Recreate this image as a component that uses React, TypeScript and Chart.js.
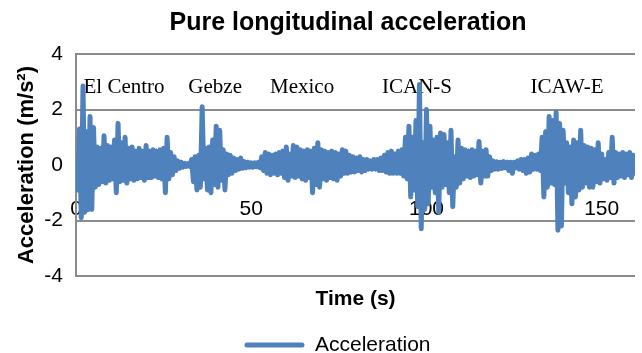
import React, { useEffect, useRef } from "react";
import { Chart, registerables } from "chart.js";

Chart.register(...registerables);

// ---- data ----
const SAMPLE_STEP = 0.5; // seconds between samples
const SERIES_NAME = "Acceleration";

// five concatenated records, 32 s each, values in m/s^2
const elCentro = [
  0.3, -0.9, 1.3, -1.9, 2.85, -1.7, 1.2, -1.6, 1.75, -1.6,
  1.35, -0.8, 0.65, -0.7, 0.6, -0.6, 1.05, -0.65, 0.7, -0.55,
  0.65, -0.5, 0.9, -1.0, 1.5, -0.6, 0.8, -0.55, 1.0, -0.65,
  0.6, -0.5, 0.65, -0.55, 0.5, -0.5, 0.6, -0.45, 0.5, -0.55,
  0.7, -0.45, 0.5, -0.45, 0.55, -0.4, 0.5, -0.45, 0.55, -0.5,
  0.6, -1.0, 1.0, -0.5, 0.45, -0.35, 0.3, -0.2, 0.15, -0.12,
  0.1, -0.08, 0.06, -0.05,
];
const gebze = [
  0.05, -0.05, 0.2, -0.6, 0.3, -0.9, 0.35, -0.8, 2.1, -0.5,
  0.6, -0.9, 0.65, -1.0, 0.9, -0.7, 1.4, -0.8, 1.25, -0.55,
  0.55, -0.9, 0.4, -0.35, 0.35, -0.3, 0.25, -0.2, 0.2, -0.15,
  0.25, -0.12, 0.12, -0.1, 0.1, -0.08, 0.08, -0.08, 0.08, -0.06,
  0.1, -0.1, 0.3, -0.2, 0.45, -0.3, 0.4, -0.35, 0.35, -0.3,
  0.4, -0.35, 0.45, -0.3, 0.5, -0.45, 0.65, -0.55, 0.4, -0.4,
  0.7, -0.45, 0.65, -0.4,
];
const mexico = [
  0.55, -0.5, 0.5, -0.55, 0.55, -0.45, 0.5, -1.0, 0.6, -0.7,
  0.8, -0.8, 0.55, -0.5, 0.5, -0.55, 0.45, -0.45, 0.5, -0.5,
  0.45, -0.55, 0.4, -0.4, 0.55, -0.3, 0.5, -0.3, 0.35, -0.25,
  0.3, -0.25, 0.25, -0.2, 0.3, -0.25, 0.2, -0.2, 0.2, -0.15,
  0.15, -0.15, 0.2, -0.15, 0.2, -0.2, 0.25, -0.2, 0.35, -0.25,
  0.45, -0.3, 0.5, -0.3, 0.4, -0.3, 0.5, -0.3, 0.55, -0.4,
  1.0, -0.5, 1.4, -1.15,
];
const icanS = [
  1.0, -0.9, 1.6, -1.5, 2.9, -2.3, 0.8, -1.6, 2.0, -1.4,
  1.4, -0.8, 0.9, -1.0, 1.0, -1.7, 1.15, -0.8, 1.1, -0.7,
  0.8, -1.0, 1.25, -1.5, 0.3, -0.8, 0.9, -0.65, 0.6, -0.5,
  0.55, -0.4, 0.5, -0.45, 0.55, -0.4, 0.5, -0.35, 0.85, -0.65,
  0.5, -0.4, 0.55, -0.4, 0.3, -0.2, 0.15, -0.15, 0.12, -0.15,
  0.1, -0.12, 0.12, -0.1, 0.1, -0.2, 0.1, -0.3, 0.1, -0.1,
  0.15, -0.15, 0.2, -0.2,
];
const icawE = [
  0.2, -0.3, 0.25, -0.25, 0.4, -0.15, 0.35, -0.15, 0.4, -0.2,
  1.0, -1.15, 1.2, -0.8, 1.75, -0.65, 1.6, -0.7, 1.9, -2.35,
  1.5, -2.2, 1.25, -0.65, 0.8, -1.0, 0.65, -1.4, 0.9, -1.15,
  0.8, -0.9, 1.25, -0.8, 0.7, -0.65, 0.65, -0.8, 0.6, -0.8,
  0.55, -0.6, 0.8, -0.65, 0.4, -0.5, 0.2, -0.55, 0.45, -0.45,
  1.0, -0.65, 0.45, -0.45, 0.4, -0.4, 0.45, -0.45, 0.4, -0.35,
  0.45, -0.45, 0.35, -0.3,
];

const recordNames = ["El Centro", "Gebze", "Mexico", "ICAN-S", "ICAW-E"];
const recordLabelTimes = [13.7, 39.7, 64.5, 97.3, 140.1];
const RECORD_LABEL_LEVEL = 2.81;

const xTickValues = [0, 50, 100, 150];
const X_MAX = 159.5;
const Y_MIN = -4;
const Y_MAX = 4;
const Y_STEP = 2;

// ---- styling ----
const BLUE = "#4f81bd";
const GRID = "#8c8c8c";
const SANS = '"Liberation Sans", Arial, Helvetica, sans-serif';
const SERIF = '"Liberation Serif", "Times New Roman", serif';
const TITLE_CENTER_X = 348;
const LEGEND_CENTER_X = 337.5;
const LEGEND_CENTER_Y = 345;
const LEGEND_FONT = 21;
const LEGEND_PAD = 10;

const recordLabelsPlugin = {
  id: "recordLabels",
  beforeDatasetsDraw(chart: any) {
    const { ctx, scales } = chart;
    ctx.save();
    ctx.font = `21px ${SERIF}`;
    ctx.fillStyle = "#000";
    ctx.textAlign = "center";
    ctx.textBaseline = "middle";
    recordNames.forEach((name, i) => {
      ctx.fillText(
        name,
        scales.x.getPixelForValue(recordLabelTimes[i]),
        scales.y.getPixelForValue(RECORD_LABEL_LEVEL)
      );
    });
    ctx.restore();
  },
};

const placementPlugin = {
  id: "placement",
  afterLayout(chart: any) {
    const lg = chart.legend;
    if (lg) {
      const dy = LEGEND_CENTER_Y - (lg.top + LEGEND_PAD + LEGEND_FONT / 2);
      lg.top += dy;
      lg.bottom += dy;
      const dx = LEGEND_CENTER_X - (lg.left + lg.right) / 2;
      lg.left += dx;
      lg.right += dx;
    }
    const tb = chart.titleBlock;
    if (tb) {
      const dx = TITLE_CENTER_X - (tb.left + tb.right) / 2;
      tb.left += dx;
      tb.right += dx;
    }
  },
};

const noSidePadding = (s: any) => {
  s.paddingLeft = 0;
  s.paddingRight = 0;
};

export default function App() {
  const canvasRef = useRef<HTMLCanvasElement | null>(null);

  useEffect(() => {
    document.body.style.margin = "0";
    const canvas = canvasRef.current;
    if (!canvas) return;
    const acceleration = [...elCentro, ...gebze, ...mexico, ...icanS, ...icawE];
    const points = acceleration.map((y, i) => ({ x: i * SAMPLE_STEP, y }));

    const chart = new Chart(canvas, {
      type: "line",
      data: {
        datasets: [
          {
            label: SERIES_NAME,
            data: points,
            borderColor: BLUE,
            backgroundColor: BLUE,
            borderWidth: 5,
            pointRadius: 0,
            pointHoverRadius: 0,
            tension: 0,
            borderJoinStyle: "round",
            borderCapStyle: "round",
            xAxisID: "x",
            yAxisID: "y",
          } as any,
        ],
      },
      options: {
        responsive: false,
        animation: false,
        devicePixelRatio: 1,
        color: "#000",
        layout: { padding: { left: 10, right: 7, top: 0, bottom: 0 } },
        plugins: {
          title: {
            display: true,
            text: "Pure longitudinal acceleration",
            color: "#000",
            font: { family: SANS, size: 25, weight: "bold", lineHeight: 1.2 },
            padding: { top: 8.5, bottom: 15.5 },
          },
          legend: {
            display: true,
            position: "bottom",
            labels: {
              color: "#000",
              font: { family: SANS, size: LEGEND_FONT },
              boxWidth: 60,
              boxHeight: 5,
              padding: LEGEND_PAD,
              useBorderRadius: true,
              borderRadius: 2.5,
              generateLabels: (c: any) =>
                Chart.defaults.plugins.legend.labels
                  .generateLabels(c)
                  .map((l: any) => ({ ...l, lineWidth: 0, fillStyle: BLUE, strokeStyle: BLUE })),
            },
          },
          tooltip: { enabled: false },
        },
        scales: {
          x: {
            type: "linear",
            min: 0,
            max: X_MAX,
            position: { y: 0 } as any,
            grid: { display: false, drawTicks: false },
            border: { display: false },
            afterBuildTicks: (s: any) => {
              s.ticks = xTickValues.map((v) => ({ value: v }));
            },
            afterFit: noSidePadding,
            ticks: {
              color: "#000",
              font: { family: SANS, size: 21 },
              padding: 32,
              maxRotation: 0,
              autoSkip: false,
            },
          },
          x2: {
            type: "linear",
            position: "bottom",
            min: 0,
            max: 1,
            grid: { display: false, drawTicks: false },
            border: { display: false },
            ticks: { display: false },
            afterFit: noSidePadding,
            title: {
              display: true,
              text: "Time (s)",
              color: "#000",
              font: { family: SANS, size: 21, weight: "bold", lineHeight: 1.2 },
              padding: { top: 10.4, bottom: 0.4 },
            },
          },
          y: {
            type: "linear",
            position: "left",
            min: Y_MIN,
            max: Y_MAX,
            afterFit: (s: any) => {
              s.width = 66;
            },
            ticks: {
              stepSize: Y_STEP,
              color: "#000",
              font: { family: SANS, size: 21 },
              padding: 13,
            },
            grid: { color: GRID, lineWidth: 2, drawTicks: false },
            border: { display: true, color: GRID, width: 2 },
            title: {
              display: true,
              text: "Acceleration (m/s²)",
              color: "#000",
              font: { family: SANS, size: 22, weight: "bold", lineHeight: 1.2 },
              padding: { top: 4, bottom: 0 },
            },
          },
        },
      } as any,
      plugins: [recordLabelsPlugin, placementPlugin],
    });
    return () => chart.destroy();
  }, []);

  return (
    <div style={{ width: 642, height: 353 }}>
      <canvas ref={canvasRef} width={642} height={353} style={{ display: "block", width: 642, height: 353 }} />
    </div>
  );
}
